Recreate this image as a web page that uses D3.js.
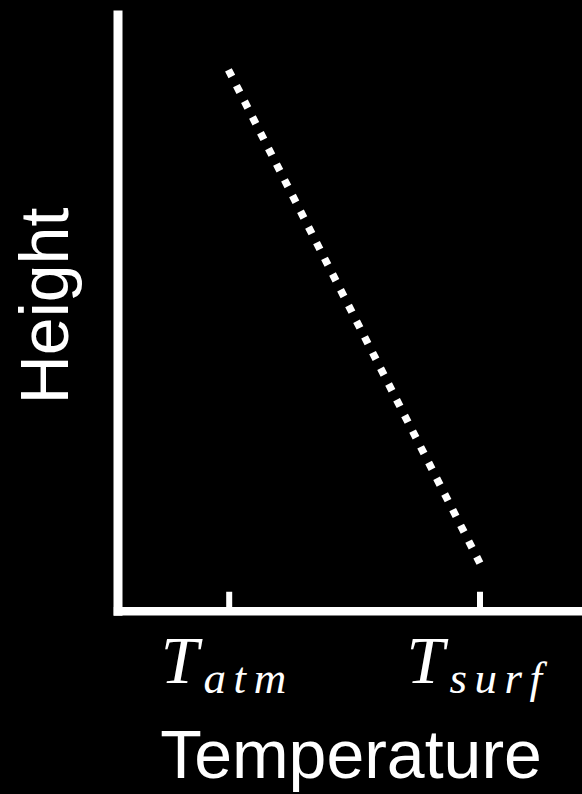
<!DOCTYPE html>
<html>
<head>
<meta charset="utf-8">
<script src="https://cdn.jsdelivr.net/npm/d3@7"></script>
<style>
  html, body { margin: 0; padding: 0; background: #000; }
  svg { display: block; }
</style>
</head>
<body>
<svg id="chart" width="582" height="794"></svg>
<script>
// tick positions on the temperature axis and their labels (base + subscript)
const tickValues = [2.394, 7.793];
const tickBase = ["T", "T"];
const tickSub = ["atm", "surf"];

// the dotted profile: temperature vs height
const profileTemp = [2.388, 7.802];
const profileHeight = [9.071, 0.799];

const svg = d3.select("#chart");
const W = +svg.attr("width");

svg.append("rect").attr("width", W).attr("height", 794).attr("fill", "#000");

const x = d3.scaleLinear().domain([0, 10]).range([117.5, 582]);
const y = d3.scaleLinear().domain([0, 10]).range([610.75, 14.5]);

// y axis (no ticks)
const yAxis = svg.append("g")
  .attr("transform", "translate(" + x(0) + ",0)")
  .call(d3.axisLeft(y).tickValues([]).tickSizeOuter(0));
yAxis.select(".domain")
  .attr("stroke", "#fff")
  .attr("stroke-width", 9)
  .attr("stroke-linecap", "square");

// x axis, ticks pointing up into the plot
const xAxis = svg.append("g")
  .attr("transform", "translate(0," + y(0) + ")")
  .call(d3.axisBottom(x).tickValues(tickValues).tickSizeInner(-19).tickSizeOuter(0).tickFormat(""));
xAxis.select(".domain")
  .attr("stroke", "#fff")
  .attr("stroke-width", 8.5)
  .attr("stroke-linecap", "square");
xAxis.selectAll(".tick line")
  .attr("stroke", "#fff")
  .attr("stroke-width", 6);
xAxis.selectAll(".tick text").remove();

// math style tick labels
xAxis.selectAll(".tick").each(function (d, i) {
  const t = d3.select(this).append("text")
    .attr("y", 72)
    .attr("fill", "#fff")
    .attr("text-anchor", "middle")
    .attr("font-family", "'Liberation Serif', serif")
    .attr("font-style", "italic");
  t.append("tspan")
    .attr("font-size", "68px")
    .attr("dx", -2)
    .text(tickBase[i]);
  t.append("tspan")
    .attr("font-size", "45px")
    .attr("dy", 10)
    .attr("dx", 5)
    .attr("letter-spacing", "7.5px")
    .text(tickSub[i]);
});

// dotted line
const pts = profileTemp.map((t, i) => [t, profileHeight[i]]);
svg.append("path")
  .datum(pts)
  .attr("fill", "none")
  .attr("stroke", "#fff")
  .attr("stroke-width", 7.5)
  .attr("stroke-dasharray", "7.5,10.13")
  .attr("d", d3.line().x((d) => x(d[0])).y((d) => y(d[1])));

// axis titles
svg.append("text")
  .attr("x", 351)
  .attr("y", 778)
  .attr("fill", "#fff")
  .attr("text-anchor", "middle")
  .attr("font-family", "'Liberation Sans', Arial, sans-serif")
  .attr("font-size", "68px")
  .text("Temperature");

svg.append("text")
  .attr("transform", "translate(68,306) rotate(-90)")
  .attr("fill", "#fff")
  .attr("text-anchor", "middle")
  .attr("font-family", "'Liberation Sans', Arial, sans-serif")
  .attr("font-size", "68px")
  .text("Height");
</script>
</body>
</html>
